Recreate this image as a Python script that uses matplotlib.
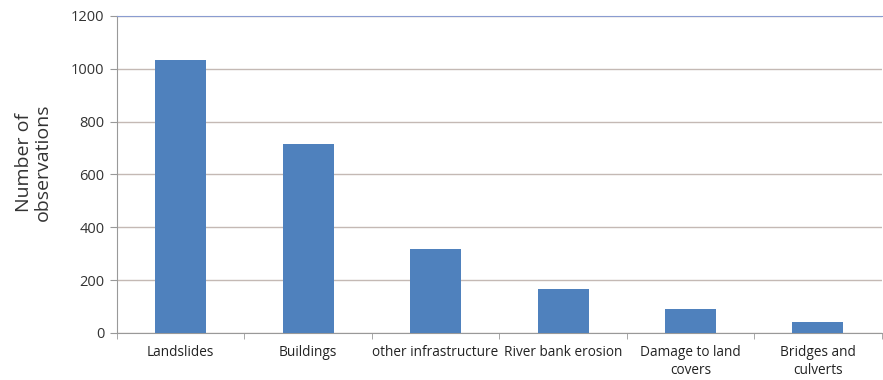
import numpy as np
import matplotlib.pyplot as plt

# data
categories = ['Landslides', 'Buildings', 'other infrastructure', 'River bank erosion',
              'Damage to land\ncovers', 'Bridges and\nculverts']
counts = [1035, 717, 318, 168, 92, 42]
y_ticks = [0, 200, 400, 600, 800, 1000, 1200]

bar_color = '#4F81BD'
grid_color = '#C4B9B4'

plt.rcParams['font.family'] = ['Open Sans', 'DejaVu Sans']

fig = plt.figure(figsize=(8.83, 3.8), dpi=100)
ax = fig.add_axes([0.1325, 0.124, 0.866, 0.834])

x = np.arange(len(categories))
ax.bar(x, counts, width=0.4, color=bar_color, zorder=3)

ax.set_xlim(-0.5, len(categories) - 0.5)
ax.set_ylim(0, 1200)
ax.set_yticks(y_ticks)
ax.set_yticklabels([str(v) for v in y_ticks], fontsize=10.5, color='#333333')
ax.yaxis.grid(True, color=grid_color, linewidth=1, zorder=0)

ax.set_xticks(x)
ax.set_xticklabels(categories, fontsize=9.8, color='#222222', linespacing=1.25)
ax.set_xticks(np.arange(len(categories) + 1) - 0.5, minor=True)
ax.tick_params(axis='x', which='major', length=0, pad=9)
ax.tick_params(axis='x', which='minor', length=4, color='#999999')
ax.tick_params(axis='y', length=5, color='#999999', pad=4)

ax.spines['right'].set_visible(False)
ax.spines['top'].set_color('#8A9CD0')
ax.spines['left'].set_color('#999999')
ax.spines['bottom'].set_color('#999999')

fig.text(0.038, 0.572, 'Number of\nobservations', rotation=90, ha='center', va='center',
         fontsize=14, color='#333333', linespacing=1.05)

fig.savefig('out.png', dpi=100, facecolor='white')
